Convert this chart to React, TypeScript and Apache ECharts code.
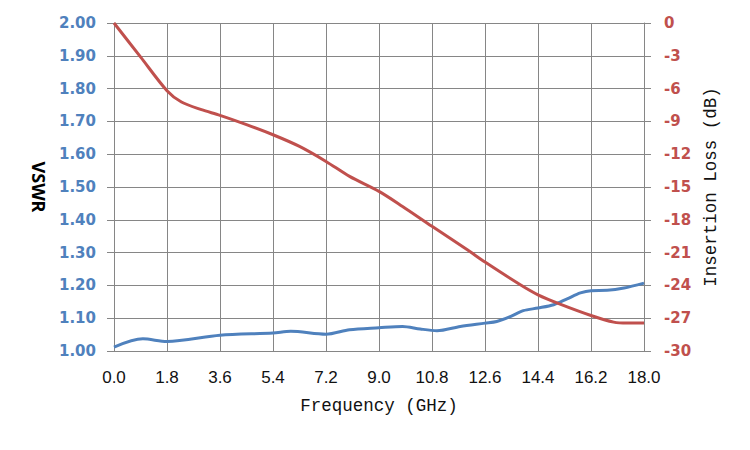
import React, { useEffect, useRef } from "react";
import * as echarts from "echarts";

const freqVswr = [0, 0.98, 1.8, 3.6, 5.4, 6.0, 7.2, 8.0, 9.0, 9.8, 10.4, 10.97, 11.76, 12.6, 13.0, 13.46, 13.9, 14.4, 14.93, 15.39, 15.84, 16.2, 16.75, 17.32, 18.0];
const vswr = [1.012, 1.037, 1.029, 1.048, 1.055, 1.06, 1.051, 1.065, 1.071, 1.075, 1.067, 1.062, 1.075, 1.085, 1.09, 1.105, 1.123, 1.131, 1.141, 1.159, 1.177, 1.184, 1.185, 1.192, 1.207];

const freqLoss = [0, 0.9, 1.8, 2.29, 2.97, 3.6, 4.5, 5.4, 6.3, 7.2, 8.0, 9.0, 9.8, 10.8, 12.0, 12.6, 13.8, 14.4, 15.15, 16.2, 16.97, 17.43, 18.0];
const loss = [0, -3.1, -6.19, -7.23, -7.93, -8.45, -9.3, -10.22, -11.29, -12.66, -14.03, -15.4, -16.78, -18.6, -20.74, -21.87, -23.94, -24.86, -25.71, -26.75, -27.36, -27.45, -27.45];

const xTitle = "Frequency (GHz)";
const leftTitle = "VSWR";
const rightTitle = "Insertion Loss (dB)";

const GRID = "#868686";
const BLUE = "#4F81BD";
const RED = "#C0504D";

export default function App() {
  const ref = useRef<HTMLDivElement>(null);
  useEffect(() => {
    document.body.style.margin = "0";
    const chart = echarts.init(ref.current!, null, { renderer: "svg" });
    chart.setOption({
      animation: false,
      backgroundColor: "#ffffff",
      grid: { left: 114, right: 106, top: 23, bottom: 99, containLabel: false },
      xAxis: {
        type: "value",
        min: 0,
        max: 18,
        interval: 1.8,
        name: xTitle,
        nameLocation: "middle",
        nameGap: 46,
        nameTextStyle: { fontFamily: "Liberation Mono", fontSize: 17.5, color: "#111" },
        axisLine: { show: true, lineStyle: { color: GRID, width: 1 } },
        axisTick: { show: true, length: 7, lineStyle: { color: GRID } },
        splitLine: { show: true, lineStyle: { color: GRID, width: 1 } },
        axisLabel: {
          margin: 18,
          fontFamily: "Liberation Sans",
          fontSize: 17,
          color: "#111",
          formatter: (v: number) => v.toFixed(1),
        },
      },
      yAxis: [
        {
          type: "value",
          min: 1,
          max: 2,
          interval: 0.1,
          position: "left",
          name: leftTitle,
          nameLocation: "middle",
          nameRotate: -90,
          nameGap: 66,
          nameTextStyle: { fontFamily: "Noto Sans", fontWeight: "bold", fontSize: 18, color: "#000" },
          axisLine: { show: true, lineStyle: { color: GRID, width: 1 } },
          axisTick: { show: true, length: 7, lineStyle: { color: GRID } },
          splitLine: { show: true, lineStyle: { color: GRID, width: 1 } },
          axisLabel: {
            margin: 18,
            fontFamily: "DejaVu Sans",
            fontWeight: "bold",
            fontSize: 15,
            color: BLUE,
            formatter: (v: number) => v.toFixed(2),
          },
        },
        {
          type: "value",
          min: -30,
          max: 0,
          interval: 3,
          position: "right",
          name: rightTitle,
          nameLocation: "middle",
          nameGap: 55,
          nameTextStyle: { fontFamily: "Liberation Mono", fontSize: 17.5, color: "#111" },
          axisLine: { show: true, lineStyle: { color: GRID, width: 1 } },
          axisTick: { show: true, length: 7, lineStyle: { color: GRID } },
          splitLine: { show: false },
          axisLabel: {
            margin: 20,
            fontFamily: "DejaVu Sans",
            fontWeight: "bold",
            fontSize: 15,
            color: RED,
            formatter: (v: number) => String(Math.round(v)),
          },
        },
      ],
      series: [
        {
          type: "line",
          yAxisIndex: 0,
          data: freqVswr.map((f, i) => [f, vswr[i]]),
          smooth: 0.3,
          showSymbol: false,
          clip: false,
          lineStyle: { color: BLUE, width: 3 },
        },
        {
          type: "line",
          yAxisIndex: 1,
          data: freqLoss.map((f, i) => [f, loss[i]]),
          smooth: 0.3,
          showSymbol: false,
          clip: false,
          lineStyle: { color: RED, width: 3 },
        },
      ],
    });
    return () => chart.dispose();
  }, []);
  return <div ref={ref} style={{ width: 750, height: 450 }} />;
}
